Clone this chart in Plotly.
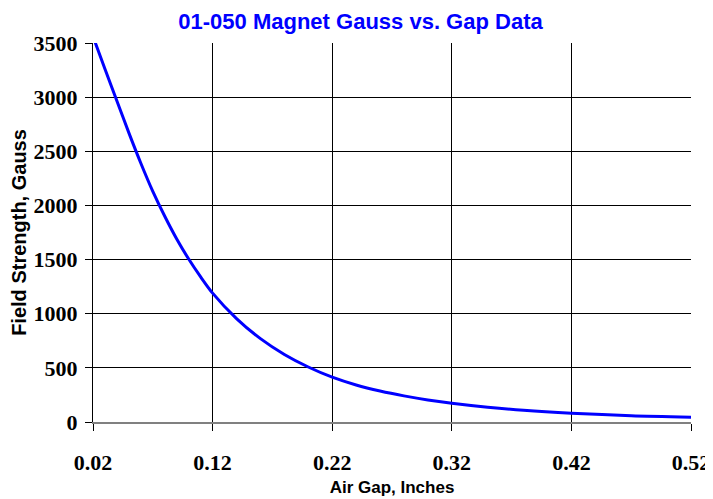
import plotly.graph_objects as go

gap_in = [0.02, 0.03, 0.04, 0.05, 0.06, 0.07, 0.08, 0.09, 0.10, 0.11, 0.12,
          0.14, 0.16, 0.18, 0.20, 0.22, 0.24, 0.26, 0.28, 0.30, 0.32,
          0.35, 0.38, 0.42, 0.47, 0.52]
gauss = [3560, 3260, 2965, 2670, 2390, 2130, 1900, 1690, 1505, 1340, 1190,
         955, 770, 624, 508, 414, 342, 286, 241, 204, 174,
         137, 108, 81, 58, 45]

title_text = "01-050 Magnet Gauss vs. Gap Data"
x_title = "Air Gap, Inches"
y_title = "Field Strength, Gauss"
x_ticks = [0.02, 0.12, 0.22, 0.32, 0.42, 0.52]
y_ticks = [0, 500, 1000, 1500, 2000, 2500, 3000, 3500]

fig = go.Figure()
fig.add_trace(go.Scatter(x=gap_in, y=gauss, mode="lines",
                         line=dict(color="#0000FF", width=3, shape="spline", smoothing=0.8),
                         showlegend=False, hoverinfo="x+y", cliponaxis=True))

tick_font = dict(family="Liberation Serif", size=22, color="black")
# the page adds an 8px body margin, so the figure is sized 8px smaller
fig.update_layout(
    width=705, height=491,
    paper_bgcolor="white", plot_bgcolor="white",
    margin=dict(l=85, r=22, t=35, b=77),
    title=dict(text="<b>" + title_text + "</b>", x=0.5, xanchor="center", y=0.972, yanchor="middle",
               font=dict(family="Liberation Sans", size=22, color="#0000FF")),
)
fig.update_xaxes(range=[0.02, 0.52], tickvals=x_ticks, ticktext=["<b>%.2f</b>" % v for v in x_ticks],
                 showgrid=True, gridcolor="black", gridwidth=1,
                 showline=True, linecolor="#808080", linewidth=1.5, mirror=False,
                 ticks="outside", ticklen=7, tickcolor="black", tickfont=tick_font,
                 ticklabelstandoff=13, zeroline=False, automargin=False,
                 title=dict(text="<b>" + x_title + "</b>", standoff=7,
                            font=dict(family="Liberation Sans", size=17, color="black")))
fig.update_yaxes(range=[0, 3500], tickvals=y_ticks, ticktext=["<b>%d</b>" % v for v in y_ticks],
                 showgrid=True, gridcolor="black", gridwidth=1,
                 showline=True, linecolor="black", linewidth=1, mirror=False,
                 ticks="outside", ticklen=7, tickcolor="black", tickfont=tick_font,
                 ticklabelstandoff=3, zeroline=False, automargin=False,
                 title=dict(text="<b>" + y_title + "</b>", standoff=12,
                            font=dict(family="Liberation Sans", size=20, color="black")))

fig.write_html("out.html")
